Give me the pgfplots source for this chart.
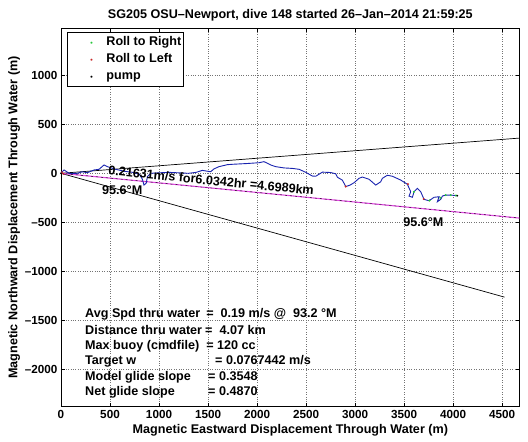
\documentclass[border=0pt]{standalone}
\usepackage{fontspec}
\setmainfont{Liberation Sans}
\usepackage{pgfplots}
\pgfplotsset{compat=1.18}
\definecolor{trk}{RGB}{25,35,175}
\definecolor{mag}{RGB}{225,70,225}
\definecolor{grn}{RGB}{40,200,60}
\definecolor{rd}{RGB}{200,40,40}
\newcommand{\lf}{\fontsize{12.6}{15}\selectfont\bfseries}
\newcommand{\dotc}[1]{{\fontsize{7}{7}\selectfont\textcolor{#1}{•}}}
\begin{document}
\begin{tikzpicture}
\useasboundingbox (-61pt,-35.3pt) rectangle (467pt,406.7pt);
\begin{axis}[
  at={(0,0)}, anchor=south west, scale only axis,
  width=458.7pt, height=378.4pt,
  xmin=0, xmax=4680, ymin=-2382, ymax=1480,
  xtick={0,500,...,4500}, ytick={-2000,-1500,...,1000},
  xticklabels={0,500,1000,1500,2000,2500,3000,3500,4000,4500},
  yticklabels={–2000,–1500,–1000,–500,0,500,1000},
  grid=major, major grid style={dotted, line width=0.6pt, black!55},
  tick align=inside, major tick length=4pt,
  axis line style={line width=0.6pt}, tick style={black, line width=0.6pt},
  tick label style={font=\fontsize{11.7}{14}\selectfont\bfseries},
  xlabel={Magnetic Eastward Displacement Through Water (m)},
  ylabel={Magnetic Northward Displacement Through Water (m)},
  title={SG205 OSU–Newport, dive 148 started 26–Jan–2014 21:59:25},
  label style={font=\lf}, title style={font=\lf, yshift=-2pt},
  xlabel style={yshift=1pt}, ylabel style={yshift=-2pt},
]
% envelope lines
\addplot[black, line width=0.7pt] coordinates {(0,0) (4685,360)};
\addplot[black, line width=0.7pt] coordinates {(0,0) (4526,-1264)};
\addplot[mag, line width=1.1pt] coordinates {(0,0) (4677,-457)};
\addplot[black, line width=0.4pt, dash pattern=on 2pt off 3pt] coordinates {(0,0) (4677,-457)};
% track
\addplot[trk, line width=0.9pt] coordinates {
(0,0) (13,16) (31,34) (82,0) (167,0) (218,16) (268,6) (337,34) (388,41) (439,85) (473,68)
(560,40) (650,20) (730,10) (800,-10) (830,-60) (847,-120) (870,-100) (881,-35) (915,0)
(1000,5) (1100,10) (1200,5) (1300,0) (1380,10) (1442,30) (1527,16) (1561,45) (1612,68)
(1697,88) (1748,92) (1900,100) (2020,108) (2071,119) (2122,95) (2140,85) (2190,68)
(2276,55) (2360,50) (2429,41) (2497,10) (2565,-28) (2599,-30) (2667,12) (2752,8)
(2803,-5) (2820,-40) (2871,-70) (2905,-135) (2950,-120) (2990,-96) (3041,-51) (3075,-38)
(3143,-61) (3211,-120) (3262,-86) (3279,-51) (3330,-20) (3381,-30) (3466,-69) (3534,-112)
(3568,-188) (3551,-232) (3585,-245) (3602,-188) (3636,-153) (3670,-188) (3704,-266)
(3755,-280) (3806,-245) (3857,-239) (3840,-290) (3874,-266) (3891,-232) (3925,-222)
(3976,-222) (4044,-229)};
\addplot[only marks, mark=*, mark size=0.8pt, grn] coordinates {
(3600,-190) (3870,-250) (3925,-222) (3976,-222) (4030,-226) (3760,-278)};
\addplot[only marks, mark=*, mark size=0.8pt, rd] coordinates {
(10,10) (25,-5) (3540,-110) (3700,-262) (2905,-135)};
\addplot[only marks, mark=*, mark size=0.6pt, black] coordinates {
(0,0) (4044,-229)};
% legend
\renewcommand{\arraystretch}{1.13}
\node[draw, line width=0.6pt, fill=white, anchor=north west, inner xsep=0pt, inner ysep=1.5pt,
  font=\lf, xshift=5.7pt, yshift=-4pt] at (rel axis cs:0,1)
  {\begin{tabular}{@{\hspace{23.5pt}}c@{\hspace{13.5pt}}l@{\hspace{2pt}}}
   \dotc{grn} & Roll to Right\\
   \dotc{rd} & Roll to Left\\
   \dotc{black} & pump
   \end{tabular}};
% annotations
\node[font=\lf, anchor=west, inner sep=0pt, rotate=-5.6] at (axis cs:483,30) {0.21631m/s for6.0342hr =4.6989km};
\node[font=\lf, inner sep=0pt] at (axis cs:625,-170) {95.6°M};
\node[font=\lf, inner sep=0pt] at (axis cs:3697,-494) {95.6°M};
\node[font=\lf, anchor=base west, inner sep=0pt] at (axis cs:245,-1475) {Avg Spd thru water};
\node[font=\lf, anchor=base west, inner sep=0pt] at (axis cs:1480,-1475) {=\ \ 0.19 m/s @\ \ 93.2 °M};
\node[font=\lf, anchor=base west, inner sep=0pt] at (axis cs:245,-1645) {Distance thru water};
\node[font=\lf, anchor=base west, inner sep=0pt] at (axis cs:1469,-1645) {=\ \ 4.07 km};
\node[font=\lf, anchor=base west, inner sep=0pt] at (axis cs:245,-1799) {Max buoy (cmdfile)};
\node[font=\lf, anchor=base west, inner sep=0pt] at (axis cs:1480,-1799) {= 120 cc};
\node[font=\lf, anchor=base west, inner sep=0pt] at (axis cs:245,-1951) {Target w};
\node[font=\lf, anchor=base west, inner sep=0pt] at (axis cs:1571,-1951) {= 0.0767442 m/s};
\node[font=\lf, anchor=base west, inner sep=0pt] at (axis cs:245,-2111) {Model glide slope};
\node[font=\lf, anchor=base west, inner sep=0pt] at (axis cs:1500,-2111) {= 0.3548};
\node[font=\lf, anchor=base west, inner sep=0pt] at (axis cs:245,-2264) {Net glide slope};
\node[font=\lf, anchor=base west, inner sep=0pt] at (axis cs:1500,-2264) {= 0.4870};
\end{axis}
\end{tikzpicture}
\end{document}
